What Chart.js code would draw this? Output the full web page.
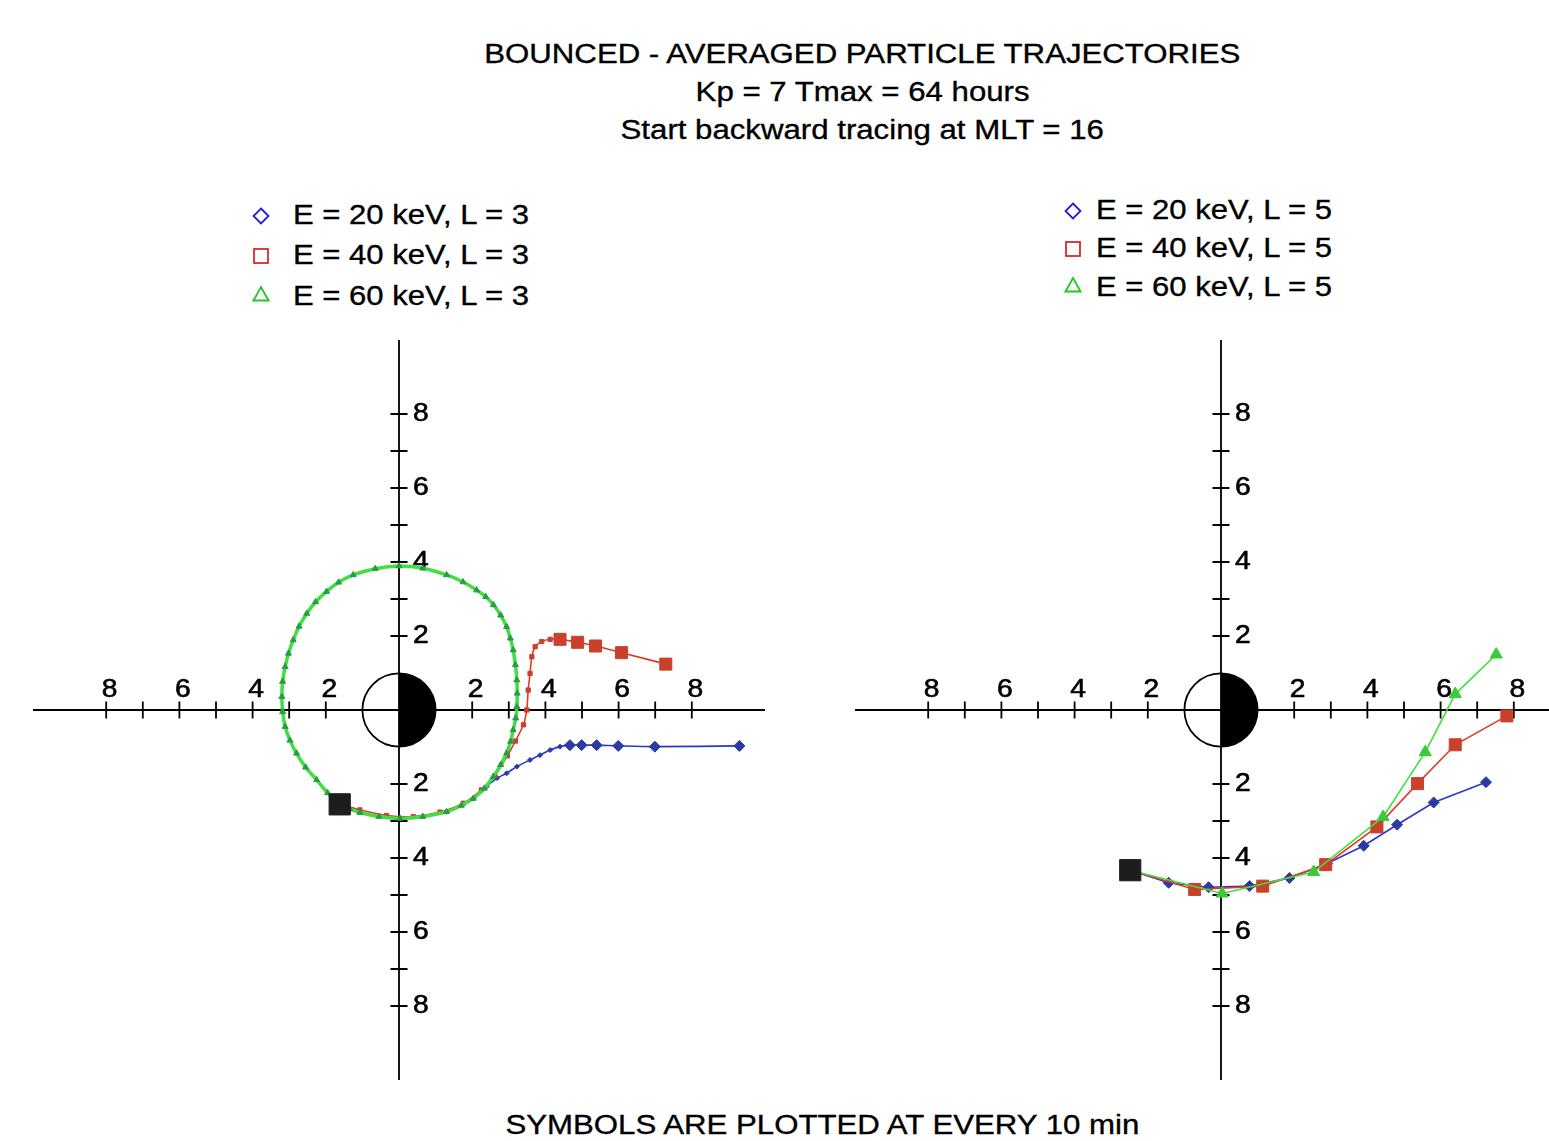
<!DOCTYPE html>
<html>
<head>
<meta charset="utf-8">
<script src="https://cdn.jsdelivr.net/npm/chart.js@4.4.0/dist/chart.umd.min.js"></script>
<style>
  html, body { margin: 0; padding: 0; width: 1549px; height: 1141px; overflow: hidden; background: #fff; }
  body { position: relative; font-family: "Liberation Sans", Arial, Helvetica, sans-serif; color: #000; }
  .line { position: absolute; left: 0; width: 1725px; text-align: center; font-size: 27px; line-height: 27px; white-space: nowrap; -webkit-text-stroke: 0.35px #000; }
  .line span { display: inline-block; transform: scaleX(1.155); }
  .item { position: absolute; font-size: 27px; line-height: 27px; white-space: nowrap; -webkit-text-stroke: 0.35px #000; }
  .item svg { position: absolute; }
  .item .txt { position: absolute; top: 0; transform: scaleX(1.15); transform-origin: left center; }
  canvas { position: absolute; }
</style>
</head>
<body>
<div class="line" style="top:41px"><span>BOUNCED - AVERAGED PARTICLE TRAJECTORIES</span></div>
<div class="line" style="top:79px"><span>Kp = 7 Tmax = 64 hours</span></div>
<div class="line" style="top:117px"><span>Start backward tracing at MLT = 16</span></div>
<div class="line" style="top:1112px; width:1644px"><span>SYMBOLS ARE PLOTTED AT EVERY 10 min</span></div>

<canvas id="gauche" width="732" height="740" style="left:33px; top:340px"></canvas>
<canvas id="droite" width="732" height="740" style="left:855px; top:340px"></canvas>

<script>
// Trajectoires moyennées (coordonnées en rayons terrestres)

// axes : graduations et étiquettes
const tickValues = [2, 3, 4, 5, 6, 7, 8];
const labelValues = [2, 4, 6, 8];

// légendes
const legendLeft = ["E = 20 keV, L = 3", "E = 40 keV, L = 3", "E = 60 keV, L = 3"];
const legendRight = ["E = 20 keV, L = 5", "E = 40 keV, L = 5", "E = 60 keV, L = 5"];

// panneau gauche, L = 3
const startL = [{ x: -1.62, y: -2.55 }];
const green60L = [
  { x: -1.62, y: -2.55 }, { x: -1.35, y: -2.67 }, { x: -1.07, y: -2.77 }, { x: -0.55, y: -2.88 },
  { x: 0.03, y: -2.93 }, { x: 0.65, y: -2.88 }, { x: 1.30, y: -2.75 }, { x: 1.70, y: -2.58 },
  { x: 2.03, y: -2.39 }, { x: 2.33, y: -2.12 }, { x: 2.58, y: -1.80 }, { x: 2.78, y: -1.48 },
  { x: 2.94, y: -1.17 }, { x: 3.05, y: -0.85 }, { x: 3.12, y: -0.54 }, { x: 3.19, y: -0.22 },
  { x: 3.22, y: 0.09 }, { x: 3.23, y: 0.45 }, { x: 3.22, y: 0.81 }, { x: 3.18, y: 1.22 },
  { x: 3.12, y: 1.62 }, { x: 3.04, y: 1.94 }, { x: 2.94, y: 2.25 }, { x: 2.78, y: 2.56 },
  { x: 2.58, y: 2.84 }, { x: 2.37, y: 3.06 }, { x: 2.12, y: 3.24 }, { x: 1.75, y: 3.46 },
  { x: 1.30, y: 3.65 }, { x: 0.65, y: 3.83 }, { x: 0.0, y: 3.89 }, { x: -0.65, y: 3.82 },
  { x: -1.25, y: 3.65 }, { x: -1.65, y: 3.45 }, { x: -1.98, y: 3.20 }, { x: -2.28, y: 2.92 },
  { x: -2.52, y: 2.61 }, { x: -2.73, y: 2.26 }, { x: -2.89, y: 1.89 }, { x: -3.02, y: 1.53 },
  { x: -3.11, y: 1.17 }, { x: -3.18, y: 0.77 }, { x: -3.20, y: 0.36 }, { x: -3.18, y: -0.05 },
  { x: -3.11, y: -0.45 }, { x: -2.98, y: -0.82 }, { x: -2.80, y: -1.17 }, { x: -2.55, y: -1.55 },
  { x: -2.25, y: -1.89 }, { x: -1.95, y: -2.24 }, { x: -1.62, y: -2.55 }
];
const red40L = [
  { x: -1.62, y: -2.55 }, { x: -1.07, y: -2.70 }, { x: -0.34, y: -2.85 }, { x: 0.39, y: -2.88 },
  { x: 1.12, y: -2.76 }, { x: 1.76, y: -2.52 }, { x: 2.25, y: -2.16 }, { x: 2.62, y: -1.78 },
  { x: 2.96, y: -1.24 }, { x: 3.18, y: -0.84 }, { x: 3.40, y: -0.40 }, { x: 3.49, y: 0.0 },
  { x: 3.53, y: 0.54 }, { x: 3.58, y: 0.99 }, { x: 3.63, y: 1.44 }, { x: 3.72, y: 1.71 },
  { x: 3.90, y: 1.85 }, { x: 4.13, y: 1.91 }, { x: 4.40, y: 1.91 }, { x: 4.88, y: 1.83 },
  { x: 5.37, y: 1.73 }, { x: 6.08, y: 1.55 }, { x: 7.29, y: 1.24 }
];
const blue20L = [
  { x: -1.62, y: -2.55 }, { x: -1.07, y: -2.77 }, { x: 0.03, y: -2.93 }, { x: 1.30, y: -2.75 },
  { x: 2.03, y: -2.39 }, { x: 2.40, y: -2.06 }, { x: 2.68, y: -1.84 }, { x: 2.94, y: -1.71 },
  { x: 3.22, y: -1.53 }, { x: 3.58, y: -1.35 }, { x: 3.85, y: -1.22 }, { x: 4.13, y: -1.08 },
  { x: 4.40, y: -0.99 }, { x: 4.67, y: -0.95 }, { x: 4.99, y: -0.95 }, { x: 5.40, y: -0.95 },
  { x: 5.99, y: -0.97 }, { x: 6.99, y: -0.99 }, { x: 9.30, y: -0.97 }
];

// panneau droit, L = 5
const startR = [{ x: -2.48, y: -4.33 }];
const blue20R = [
  { x: -2.48, y: -4.33 }, { x: -1.43, y: -4.67 }, { x: -0.34, y: -4.79 }, { x: 0.78, y: -4.76 },
  { x: 1.87, y: -4.54 }, { x: 2.90, y: -4.15 }, { x: 3.90, y: -3.67 }, { x: 4.81, y: -3.10 },
  { x: 5.81, y: -2.50 }, { x: 7.24, y: -1.95 }
];
const red40R = [
  { x: -2.48, y: -4.33 }, { x: -0.72, y: -4.85 }, { x: 1.14, y: -4.76 }, { x: 2.86, y: -4.18 },
  { x: 4.26, y: -3.16 }, { x: 5.37, y: -1.99 }, { x: 6.40, y: -0.94 }, { x: 7.81, y: -0.16 }
];
const green60R = [
  { x: -2.48, y: -4.33 }, { x: 0.03, y: -4.96 }, { x: 2.53, y: -4.38 }, { x: 4.43, y: -2.89 },
  { x: 5.58, y: -1.14 }, { x: 6.40, y: 0.43 }, { x: 7.52, y: 1.50 }
];

// couleurs
const blueLine = "#2a36cc", blueFill = "#2b3aa5";
const redLine = "#e23a2a", redFill = "#c9412d";
const greenLine = "#3fe03f", greenFill = "#3cc93c";

// Légendes HTML (symboles creux comme sur la figure)
const markers = [
  '<polygon points="9,1.5 16.5,9 9,16.5 1.5,9" fill="none" stroke="#2020c8" stroke-width="1.8"/>',
  '<rect x="2" y="2" width="14" height="14" fill="none" stroke="#d82a2a" stroke-width="1.8"/>',
  '<polygon points="9,2 16.5,15.5 1.5,15.5" fill="none" stroke="#22c822" stroke-width="1.8"/>'
];
function legende(labels, markX, textX, y0, step) {
  labels.forEach((lab, i) => {
    const d = document.createElement("div");
    d.className = "item";
    d.style.left = "0px";
    d.style.top = (y0 + i * step - 13.5) + "px";
    d.innerHTML = '<svg width="18" height="18" style="left:' + (markX - 9) + 'px; top:' + (5 + (i === 2 ? -3 : 0)) + 'px">' +
      markers[i] + '</svg><span class="txt" style="left:' + textX + 'px">' + lab + '</span>';
    document.body.appendChild(d);
  });
}
legende(legendLeft, 261, 293, 215, 40.5);
legende(legendRight, 1073, 1096, 210, 38.5);

// Axes en croix, graduations et Terre, tracés à partir des échelles de Chart.js
const crossAxes = {
  id: "crossAxes",
  beforeDatasetsDraw(chart) {
    const { ctx } = chart;
    const xs = chart.scales.x, ys = chart.scales.y;
    const x0 = xs.getPixelForValue(0), y0 = ys.getPixelForValue(0);
    ctx.save();

    // la Terre : côté nuit blanc, côté jour noir
    const r = xs.getPixelForValue(1) - x0;
    ctx.lineWidth = 1.8;
    ctx.strokeStyle = "#000";
    ctx.fillStyle = "#fff";
    ctx.beginPath();
    ctx.arc(x0, y0, r, 0, Math.PI * 2);
    ctx.fill();
    ctx.stroke();
    ctx.fillStyle = "#000";
    ctx.beginPath();
    ctx.moveTo(x0, y0 - r);
    ctx.arc(x0, y0, r, -Math.PI / 2, Math.PI / 2);
    ctx.closePath();
    ctx.fill();

    // axes
    ctx.beginPath();
    ctx.moveTo(xs.left, y0); ctx.lineTo(xs.right, y0);
    ctx.moveTo(x0, ys.top); ctx.lineTo(x0, ys.bottom);
    tickValues.forEach((v) => {
      [v, -v].forEach((t) => {
        const px = xs.getPixelForValue(t);
        ctx.moveTo(px, y0 - 8.5); ctx.lineTo(px, y0 + 8.5);
        const py = ys.getPixelForValue(t);
        ctx.moveTo(x0 - 8.5, py); ctx.lineTo(x0 + 8.5, py);
      });
    });
    ctx.stroke();

    // étiquettes (valeurs absolues)
    ctx.font = '25px "Liberation Sans", Arial, sans-serif';
    ctx.fillStyle = "#000";
    ctx.strokeStyle = "#000";
    ctx.lineWidth = 0.6;
    const label = (txt, px, py, align) => {
      ctx.save();
      ctx.translate(px, py);
      ctx.scale(1.13, 1);
      ctx.textAlign = align;
      ctx.fillText(txt, 0, 0);
      ctx.strokeText(txt, 0, 0);
      ctx.restore();
    };
    labelValues.forEach((v) => {
      [v, -v].forEach((t) => {
        label(String(Math.abs(t)), xs.getPixelForValue(t) + 3.5, y0 - 13, "center");
        label(String(Math.abs(t)), x0 + 14, ys.getPixelForValue(t) + 6.7, "left");
      });
    });
    ctx.restore();
  }
};

function options() {
  return {
    responsive: false,
    animation: false,
    layout: { padding: 0, autoPadding: false },
    plugins: { legend: { display: false }, tooltip: { enabled: false } },
    scales: {
      x: { type: "linear", min: -10, max: 10, display: false },
      y: { type: "linear", min: -10, max: 10, display: false }
    }
  };
}

// Panneau gauche
new Chart(document.getElementById("gauche"), {
  type: "scatter",
  data: {
    datasets: [
      { label: "start", data: startL, pointStyle: "rect", pointRadius: 15,
        backgroundColor: "#1d1d1d", borderColor: "#1d1d1d" },
      { label: legendLeft[2], data: green60L, showLine: true, tension: 0.4,
        borderColor: greenLine, borderWidth: 3.5,
        pointStyle: "triangle", pointRadius: (c) => (c.dataIndex === 0 ? 0 : 3.5),
        pointBackgroundColor: "#2c9a48", pointBorderColor: "#2c9a48", pointBorderWidth: 1 },
      { label: legendLeft[1], data: red40L, showLine: true, tension: 0.3,
        borderColor: redLine, borderWidth: 1.6,
        pointStyle: "rect", pointRadius: (c) => (c.dataIndex === 0 ? 0 : c.raw.x > 4.2 ? 8.5 : 3),
        pointBackgroundColor: redFill, pointBorderColor: redFill, pointBorderWidth: 1 },
      { label: legendLeft[0], data: blue20L, showLine: true, tension: 0.3,
        borderColor: blueLine, borderWidth: 1.6,
        pointStyle: "rectRot", pointRadius: (c) => (c.dataIndex === 0 ? 0 : c.raw.x > 4.5 ? 5.5 : 2.5),
        pointBackgroundColor: blueFill, pointBorderColor: blueFill, pointBorderWidth: 1 }
    ]
  },
  options: options(),
  plugins: [crossAxes]
});

// Panneau droit
new Chart(document.getElementById("droite"), {
  type: "scatter",
  data: {
    datasets: [
      { label: "start", data: startR, pointStyle: "rect", pointRadius: 15,
        backgroundColor: "#1d1d1d", borderColor: "#1d1d1d" },
      { label: legendRight[2], data: green60R, showLine: true,
        borderColor: greenLine, borderWidth: 1.6,
        pointStyle: "triangle", pointRadius: (c) => (c.dataIndex === 0 ? 0 : 7),
        pointBackgroundColor: greenFill, pointBorderColor: greenFill, pointBorderWidth: 1 },
      { label: legendRight[1], data: red40R, showLine: true,
        borderColor: redLine, borderWidth: 1.6,
        pointStyle: "rect", pointRadius: (c) => (c.dataIndex === 0 ? 0 : 8.5),
        pointBackgroundColor: redFill, pointBorderColor: redFill, pointBorderWidth: 1 },
      { label: legendRight[0], data: blue20R, showLine: true,
        borderColor: blueLine, borderWidth: 1.6,
        pointStyle: "rectRot", pointRadius: (c) => (c.dataIndex === 0 ? 0 : 5.5),
        pointBackgroundColor: blueFill, pointBorderColor: blueFill, pointBorderWidth: 1 }
    ]
  },
  options: options(),
  plugins: [crossAxes]
});
</script>
</body>
</html>
